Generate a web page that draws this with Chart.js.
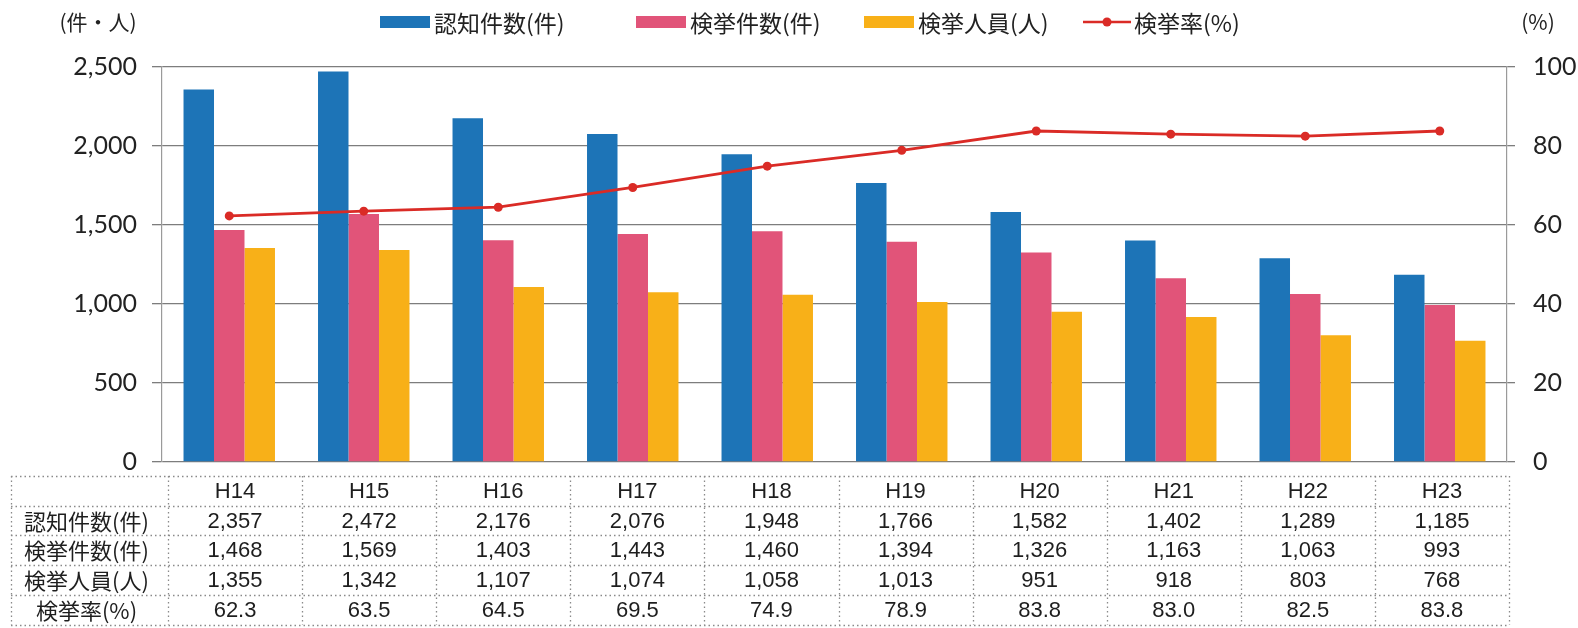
<!DOCTYPE html>
<html><head><meta charset="utf-8">
<script src="https://cdn.jsdelivr.net/npm/chart.js@4"></script>
<style>html,body{margin:0;padding:0;background:#fff}#wrap{width:1578px;height:628px}</style>
</head><body><div id="wrap"><canvas id="c" width="1578" height="628"></canvas></div>
<script>
const categories = ['H14','H15','H16','H17','H18','H19','H20','H21','H22','H23'];
const ninchiKensu = [2357,2472,2176,2076,1948,1766,1582,1402,1289,1185];
const kenkyoKensu = [1468,1569,1403,1443,1460,1394,1326,1163,1063,993];
const kenkyoJinin = [1355,1342,1107,1074,1058,1013,951,918,803,768];
const kenkyoRitsu = [62.3,63.5,64.5,69.5,74.9,78.9,83.8,83.0,82.5,83.8];
const seriesNames = ['認知件数(件)','検挙件数(件)','検挙人員(人)','検挙率(%)'];
const leftAxisTitle = '(件・人)';
const rightAxisTitle = '(%)';
const leftTicks = {min:0, max:2500, step:500};
const rightTicks = {min:0, max:100, step:20};

const COLORS = ['#1d74b7','#e15479','#f8b018','#da2b26'];
const JP = '"Noto Sans CJK JP", "Noto Sans", sans-serif';
const NUM = '"Liberation Sans", Arial, sans-serif';
const LEGEND_X = [380, 636, 864, 1083];

const legendPlugin = {
  id: 'customLegend',
  afterDraw(chart) {
    const ctx = chart.ctx;
    ctx.save();
    ctx.font = '23px ' + JP;
    ctx.textBaseline = 'middle';
    const y = 22;
    seriesNames.forEach((name, i) => {
      let x = LEGEND_X[i];
      if (i < 3) {
        ctx.fillStyle = COLORS[i];
        ctx.fillRect(x, y - 6, 50, 12);
        x += 54;
      } else {
        ctx.strokeStyle = COLORS[3];
        ctx.lineWidth = 2.5;
        ctx.beginPath(); ctx.moveTo(x, y); ctx.lineTo(x + 48, y); ctx.stroke();
        ctx.fillStyle = COLORS[3];
        ctx.beginPath(); ctx.arc(x + 24, y, 4.5, 0, Math.PI * 2); ctx.fill();
        x += 51;
      }
      ctx.fillStyle = '#222';
      ctx.textAlign = 'left';
      ctx.fillText(name, x, y + 1);
    });
    ctx.font = '21px ' + JP;
    ctx.textAlign = 'center';
    ctx.fillText(leftAxisTitle, 98, 22);
    ctx.fillText(rightAxisTitle, 1538, 22);
    ctx.restore();
  }
};

const tablePlugin = {
  id: 'dataTable',
  afterDraw(chart) {
    const ctx = chart.ctx;
    const area = chart.chartArea;
    const n = categories.length;
    const left = area.left + 6, right = area.right + 2;
    const colW = (right - left) / n;
    const tableLeft = 11;
    const rowsY = [476, 506, 535, 565, 595, 625];
    ctx.save();
    ctx.strokeStyle = '#8a8a8a';
    ctx.lineWidth = 1.3;
    ctx.setLineDash([1.5, 3]);
    rowsY.forEach(y => {
      ctx.beginPath(); ctx.moveTo(tableLeft, y + 0.5); ctx.lineTo(right, y + 0.5); ctx.stroke();
    });
    const vx = [tableLeft];
    for (let k = 0; k <= n; k++) vx.push(left + k * colW);
    vx.forEach(x => {
      ctx.beginPath(); ctx.moveTo(Math.round(x) + 0.5, rowsY[0]); ctx.lineTo(Math.round(x) + 0.5, rowsY[rowsY.length - 1]); ctx.stroke();
    });
    ctx.setLineDash([]);
    ctx.fillStyle = '#1e1e1e';
    ctx.textAlign = 'center';
    ctx.textBaseline = 'middle';
    const labelCx = (tableLeft + left) / 2 - 3;
    const rows = [
      ninchiKensu.map(v => v.toLocaleString('en-US')),
      kenkyoKensu.map(v => v.toLocaleString('en-US')),
      kenkyoJinin.map(v => v.toLocaleString('en-US')),
      kenkyoRitsu.map(v => v.toFixed(1))
    ];
    ctx.font = '22px ' + NUM;
    categories.forEach((c, i) => {
      ctx.fillText(c, left + colW * (i + 0.5), (rowsY[0] + rowsY[1]) / 2 + 1);
    });
    rows.forEach((vals, r) => {
      const cy = (rowsY[r + 1] + rowsY[r + 2]) / 2 + 1;
      ctx.font = '22px ' + JP;
      ctx.fillText(seriesNames[r], labelCx, cy);
      ctx.font = '22px ' + NUM;
      vals.forEach((v, i) => ctx.fillText(v, left + colW * (i + 0.5), cy));
    });
    ctx.restore();
  }
};

new Chart(document.getElementById('c'), {
  data: {
    labels: categories,
    datasets: [
      {type:'line', label: seriesNames[3], data: kenkyoRitsu, yAxisID:'y1', order:0,
       borderColor: COLORS[3], backgroundColor: COLORS[3], borderWidth: 2.8,
       pointRadius: 4.5, pointBackgroundColor: COLORS[3], pointBorderWidth: 0, tension: 0},
      {type:'bar', label: seriesNames[0], data: ninchiKensu, yAxisID:'y', order:1, backgroundColor: COLORS[0]},
      {type:'bar', label: seriesNames[1], data: kenkyoKensu, yAxisID:'y', order:1, backgroundColor: COLORS[1]},
      {type:'bar', label: seriesNames[2], data: kenkyoJinin, yAxisID:'y', order:1, backgroundColor: COLORS[2]}
    ]
  },
  options: {
    responsive: false,
    devicePixelRatio: 1,
    animation: false,
    layout: {padding: {top: 67, bottom: 166, left: 0, right: 0}},
    datasets: {bar: {categoryPercentage: 0.68, barPercentage: 1.0}},
    plugins: {legend: {display: false}, tooltip: {enabled: false}},
    scales: {
      x: {display: false, offset: true, grid: {display: false}},
      y: {
        position: 'left', min: leftTicks.min, max: leftTicks.max,
        afterFit(s) { s.width = 162; },
        ticks: {stepSize: leftTicks.step, font: {family: 'Lato, "Open Sans", sans-serif', size: 25}, color: '#222', padding: 15,
                callback: v => v.toLocaleString('en-US')},
        grid: {color: '#7d7d7d', lineWidth: 1.3, tickLength: 10, drawTicks: true},
        border: {display: true, color: '#9a9a9a', width: 1.2}
      },
      y1: {
        position: 'right', min: rightTicks.min, max: rightTicks.max,
        afterFit(s) { s.width = 71; },
        ticks: {stepSize: rightTicks.step, font: {family: 'Lato, "Open Sans", sans-serif', size: 25}, color: '#222', padding: 18},
        grid: {drawOnChartArea: false, color: '#7d7d7d', lineWidth: 1.3, tickLength: 8},
        border: {display: true, color: '#9a9a9a', width: 1.2}
      }
    }
  },
  plugins: [legendPlugin, tablePlugin]
});
</script>
</body></html>
